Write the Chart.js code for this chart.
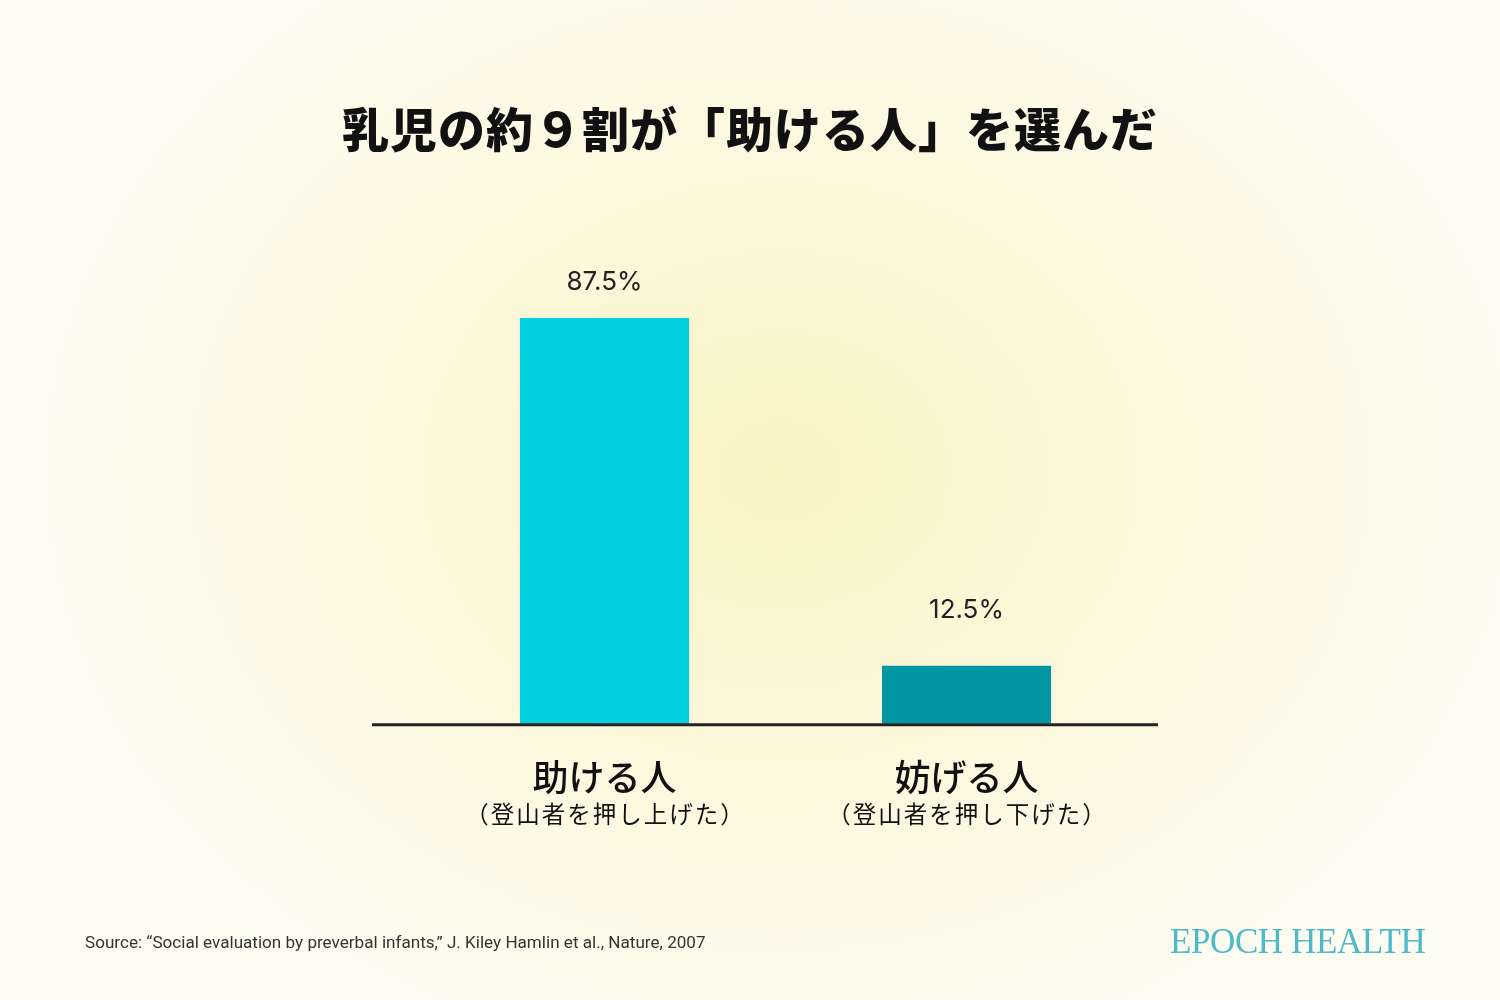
<!DOCTYPE html>
<html>
<head>
<meta charset="utf-8">
<script src="https://cdn.jsdelivr.net/npm/chart.js@4.4.1/dist/chart.umd.min.js"></script>
<style>
  html, body { margin: 0; padding: 0; }
  body {
    width: 1500px; height: 1000px; overflow: hidden; position: relative;
    background: radial-gradient(ellipse 760px 620px at 780px 470px, #faf3c2 0%, #fbf7d6 35%, #fcf9e4 65%, #fdfcf1 100%);
  }
  #c { position: absolute; left: 0; top: 0; }
  .title {
    position: absolute; left: 0; top: 97px; width: 1500px; text-align: center;
    font-family: "Noto Sans CJK JP", sans-serif; font-size: 47px; font-weight: 900;
    color: #111; letter-spacing: 1px; line-height: 60px; margin: 0;
  }
  .source {
    position: absolute; left: 85px; top: 932px;
    font-family: Roboto, "Liberation Sans", sans-serif; font-size: 17.1px; color: #333;
  }
  .logo {
    position: absolute; left: 1170px; top: 922px;
    font-family: "Liberation Serif", "DejaVu Serif", serif; font-size: 35px; color: #4db9c9;
    letter-spacing: -0.4px;
  }
</style>
</head>
<body>
<canvas id="c" width="1500" height="1000"></canvas>
<h1 class="title" id="title"></h1>
<div class="source">Source: “Social evaluation by preverbal infants,” J. Kiley Hamlin et al., Nature, 2007</div>
<div class="logo">EPOCH HEALTH</div>
<script>
(function(){
    // data
    const categories = ['助ける人', '妨げる人'];
    const subLabels = ['（登山者を押し上げた）', '（登山者を押し下げた）'];
    const shares = [87.5, 12.5];
    const barColors = ['#00cfdd', '#0097a3'];
    const titleText = '乳児の約９割が「助ける人」を選んだ';

    document.getElementById('title').textContent = titleText;

    const jp = '"Noto Sans CJK JP", "Noto Sans", sans-serif';
    const labelGap = [36, 56]; // space between bar top and value label

    // value labels, baseline and sub labels
    const extras = {
        id: 'extras',
        afterDatasetsDraw(chart) {
            const ctx = chart.ctx;
            const area = chart.chartArea;
            const meta = chart.getDatasetMeta(0);
            ctx.save();
            // baseline
            ctx.strokeStyle = '#222';
            ctx.lineWidth = 3;
            ctx.beginPath();
            ctx.moveTo(area.left - 51.5, area.bottom + 1);
            ctx.lineTo(area.right + 10.5, area.bottom + 1);
            ctx.stroke();
            // value labels
            ctx.fillStyle = '#222';
            ctx.font = '26px Inter, Roboto, sans-serif';
            ctx.textAlign = 'center';
            ctx.textBaseline = 'middle';
            meta.data.forEach(function(bar, i){
                ctx.fillText(shares[i] + '%', bar.x, bar.y - labelGap[i]);
            });
            // sub labels
            const xs = chart.scales.x;
            ctx.fillStyle = '#111';
            ctx.font = '23.5px ' + jp;
            ctx.letterSpacing = '2px';
            subLabels.forEach(function(t, i){
                ctx.fillText(t, xs.getPixelForTick(i) + 1, area.bottom + 90);
            });
            ctx.restore();
        }
    };

    new Chart(document.getElementById('c'), {
        type: 'bar',
        data: {
            labels: categories,
            datasets: [{
                data: shares,
                backgroundColor: barColors,
                borderWidth: 0,
                categoryPercentage: 1,
                barPercentage: 0.467
            }]
        },
        options: {
            responsive: false,
            animation: false,
            layout: { padding: { left: 423.5, right: 352.5, top: 260, bottom: 169 } },
            plugins: {
                legend: { display: false },
                tooltip: { enabled: false },
                title: { display: false }
            },
            scales: {
                x: {
                    grid: { display: false, drawTicks: false },
                    border: { display: false },
                    ticks: {
                        color: '#111',
                        padding: 32,
                        font: { family: jp, size: 36, weight: 500 }
                    }
                },
                y: {
                    display: false,
                    min: 0,
                    max: 100
                }
            }
        },
        plugins: [extras]
    });
})();
</script>
</body>
</html>
